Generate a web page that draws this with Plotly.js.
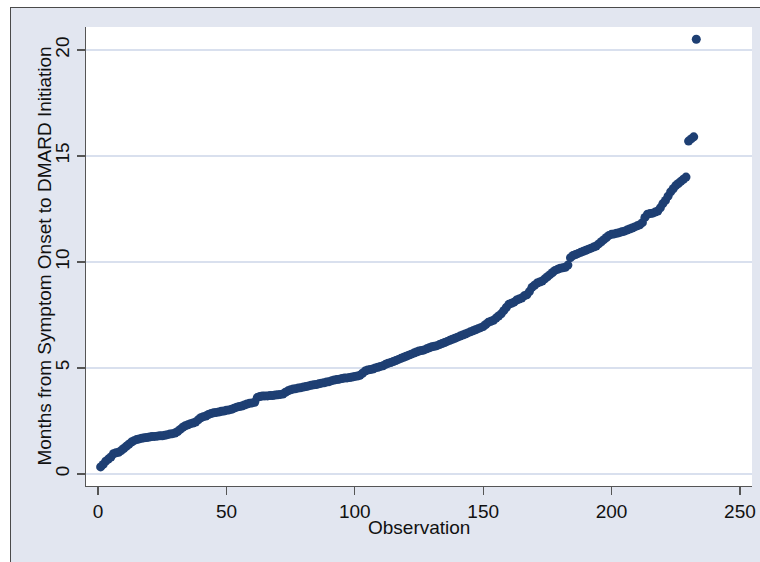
<!DOCTYPE html>
<html>
<head>
<meta charset="utf-8">
<script src="https://cdn.plot.ly/plotly-3.0.1.min.js"></script>
<style>
  html, body { margin: 0; padding: 0; background: #ffffff; }
  #bg { position: absolute; left: 10px; top: 7px; width: 750px; height: 555px;
        background: #e2e6f0; border-top: 1px solid #4a4a4a; border-left: 1px solid #4a4a4a; box-sizing: border-box; }
  #chart { position: absolute; left: 0; top: 0; width: 760px; height: 562px; }
</style>
</head>
<body>
<div id="bg"></div>
<div id="chart"></div>
<script>
// Months from symptom onset to DMARD initiation, sorted (quantile-style plot)
const months = [
  0.33, 0.45, 0.60, 0.70, 0.80, 0.95, 1.00, 1.02, 1.10, 1.20,
  1.30, 1.40, 1.50, 1.57, 1.62, 1.65, 1.68, 1.70, 1.72, 1.74,
  1.76, 1.77, 1.78, 1.80, 1.80, 1.82, 1.85, 1.88, 1.90, 1.93,
  2.00, 2.10, 2.20, 2.27, 2.32, 2.37, 2.40, 2.45, 2.55, 2.65,
  2.70, 2.73, 2.80, 2.85, 2.88, 2.90, 2.92, 2.95, 2.97, 3.00,
  3.02, 3.05, 3.10, 3.15, 3.18, 3.20, 3.25, 3.30, 3.33, 3.35,
  3.38, 3.60, 3.65, 3.67, 3.68, 3.68, 3.70, 3.70, 3.72, 3.73,
  3.75, 3.77, 3.85, 3.92, 3.97, 4.00, 4.02, 4.05, 4.07, 4.10,
  4.12, 4.15, 4.18, 4.20, 4.22, 4.25, 4.28, 4.30, 4.33, 4.35,
  4.40, 4.43, 4.45, 4.47, 4.50, 4.52, 4.53, 4.55, 4.57, 4.60,
  4.62, 4.65, 4.75, 4.85, 4.90, 4.92, 4.95, 5.00, 5.03, 5.07,
  5.10, 5.17, 5.22, 5.25, 5.30, 5.35, 5.40, 5.45, 5.50, 5.55,
  5.60, 5.65, 5.70, 5.75, 5.80, 5.82, 5.85, 5.90, 5.95, 6.00,
  6.02, 6.05, 6.10, 6.15, 6.20, 6.25, 6.30, 6.35, 6.40, 6.45,
  6.50, 6.55, 6.60, 6.65, 6.70, 6.75, 6.80, 6.85, 6.90, 6.95,
  7.05, 7.15, 7.20, 7.25, 7.35, 7.45, 7.55, 7.70, 7.85, 8.00,
  8.05, 8.10, 8.20, 8.25, 8.30, 8.40, 8.45, 8.60, 8.80, 8.90,
  9.00, 9.05, 9.10, 9.20, 9.30, 9.40, 9.50, 9.60, 9.65, 9.70,
  9.72, 9.75, 9.85, 10.20, 10.30, 10.35, 10.40, 10.45, 10.50, 10.55,
  10.60, 10.65, 10.70, 10.75, 10.85, 10.95, 11.05, 11.15, 11.25, 11.30,
  11.32, 11.35, 11.38, 11.42, 11.45, 11.50, 11.55, 11.60, 11.65, 11.70,
  11.75, 11.85, 12.10, 12.25, 12.28, 12.30, 12.35, 12.40, 12.55, 12.75,
  12.90, 13.10, 13.30, 13.45, 13.60, 13.70, 13.80, 13.90, 14.00, 15.70,
  15.80, 15.90, 20.50
];
const observation = months.map((_, i) => i + 1);

const xTicks = [0, 50, 100, 150, 200, 250];
const yTicks = [0, 5, 10, 15, 20];
const xTitle = "Observation";
const yTitle = "Months from Symptom Onset to DMARD Initiation";

const fontFamily = '"Liberation Sans", Arial, Helvetica, sans-serif';
const txt = { family: fontFamily, size: 19, color: '#111111' };

const trace = {
  x: observation,
  y: months,
  type: 'scatter',
  mode: 'markers',
  marker: { color: '#1e3f73', size: 9, line: { width: 0 } },
  hoverinfo: 'x+y'
};

const layout = {
  width: 760,
  height: 562,
  paper_bgcolor: 'rgba(0,0,0,0)',
  plot_bgcolor: '#ffffff',
  margin: { l: 86, r: 8, t: 27, b: 76, pad: 0 },
  showlegend: false,
  font: txt,
  xaxis: {
    range: [-4.7, 254.7],
    tickvals: xTicks,
    ticktext: xTicks.map(String),
    ticks: 'outside',
    ticklen: 8,
    tickwidth: 1.2,
    tickcolor: '#555555',
    showline: true,
    linecolor: '#555555',
    linewidth: 1.2,
    showgrid: false,
    zeroline: false,
    tickfont: txt
  },
  yaxis: {
    range: [-0.57, 21.08],
    tickvals: yTicks,
    ticktext: yTicks.map(String),
    tickangle: -90,
    ticks: 'outside',
    ticklen: 8,
    tickwidth: 1.2,
    tickcolor: '#555555',
    showline: true,
    linecolor: '#555555',
    linewidth: 1.2,
    showgrid: true,
    gridcolor: '#d9e0ee',
    gridwidth: 1.5,
    zeroline: false,
    tickfont: txt
  },
  annotations: [
    { text: xTitle, xref: 'paper', yref: 'paper', x: 0.5, y: -0.0915, yanchor: 'middle', xanchor: 'center',
      showarrow: false, font: txt },
    { text: yTitle, xref: 'paper', yref: 'paper', x: -0.063, y: 0.5, xanchor: 'center', yanchor: 'middle',
      textangle: -90, showarrow: false, font: txt }
  ]
};

Plotly.newPlot('chart', [trace], layout, { displayModeBar: false, staticPlot: true });
</script>
</body>
</html>
